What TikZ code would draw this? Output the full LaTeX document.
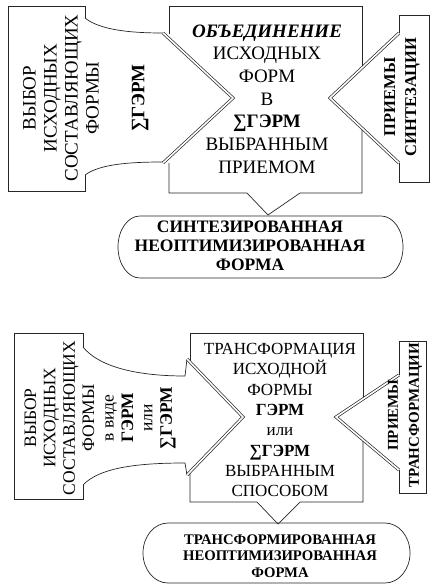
\documentclass[tikz,border=0pt]{standalone}
\usepackage{fontspec}
\setmainfont{Liberation Serif}
\begin{document}
\begin{tikzpicture}[x=1pt,y=-1pt,
  ln/.style={line width=0.7pt, draw=black!85},
  dbl/.style={line width=0.7pt, draw=black!85, double=white, double distance=1.6pt},
  txt/.style={inner sep=0pt, align=center, text=black}]
\useasboundingbox (0,0) rectangle (436,586);
% ---------------- top section ----------------
% left arrow (selection)
\draw[ln] (85,18) -- (85,6) -- (8,6) -- (8,191) -- (85,191) -- (85,175);
\draw[ln] (85,18) .. controls (100,30) and (130,33) .. (163,33);
\draw[ln] (85,175) .. controls (100,164) and (130,162) .. (163,162);
% centre box
\draw[ln] (169,34) -- (169,6) -- (362,6) -- (362,68);
\draw[ln] (362,128) -- (362,193) -- (300,193) -- (268,215) -- (247,193) -- (169,193) -- (169,163);
% right box (techniques)
\draw[ln] (399,33) -- (399,15) -- (429,15) -- (429,182) -- (399,182) -- (399,163);
\draw[dbl] (163,33) -- (233,98) -- (163,163);
\draw[dbl] (399,33) -- (330,98) -- (399,163);
% result pill
\draw[ln] (140,216) -- (381,216) arc[start angle=-90, end angle=90, x radius=22, y radius=31]
  -- (140,278) arc[start angle=90, end angle=270, x radius=22, y radius=31] -- cycle;
% texts
\node[txt, rotate=90, font=\fontsize{19}{21}\selectfont] (tl) at (61,98)
  {ВЫБОР\\ИСХОДНЫХ\\СОСТАВЛЯЮЩИХ\\ФОРМЫ};
\node[txt, rotate=90, font=\fontsize{19}{21}\selectfont\bfseries] (tls) at (140,98) {∑ГЭРМ};
\node[txt, font=\fontsize{19}{22.7}\selectfont] (tc) at (267,99)
  {\textbf{\textit{ОБЪЕДИНЕНИЕ}}\\ИСХОДНЫХ\\ФОРМ\\В\\\textbf{∑ГЭРМ}\\ВЫБРАННЫМ\\ПРИЕМОМ};
\node[txt, rotate=90, font=\fontsize{16.5}{21}\selectfont\bfseries] (tr) at (402,97)
  {ПРИЕМЫ\\СИНТЕЗАЦИИ};
\node[txt, font=\fontsize{17.5}{19}\selectfont\bfseries] (tp) at (250,246)
  {СИНТЕЗИРОВАННАЯ\\НЕОПТИМИЗИРОВАННАЯ\\ФОРМА};
% ---------------- bottom section ----------------
\draw[ln] (83,347) -- (83,333) -- (14,333) -- (14,499) -- (83,499) -- (83,485);
\draw[ln] (83,347) .. controls (100,368) and (140,376) .. (185,376) -- (187,359);
\draw[ln] (83,485) .. controls (100,467) and (140,463) .. (185,463) -- (187,475);
\draw[ln] (190,362) -- (190,333) -- (363,333) -- (363,399);
\draw[ln] (363,440) -- (363,502) -- (300,502) -- (278,524) -- (257,502) -- (190,502) -- (190,472);
\draw[ln] (399,375) -- (399,341) -- (426,341) -- (426,493) -- (399,493) -- (399,470);
\draw[dbl] (187,359) -- (243,417) -- (187,475);
\draw[dbl] (399,375) -- (336,417) -- (399,470);
\draw[ln] (168,523) -- (385,523) arc[start angle=-90, end angle=90, x radius=25, y radius=30]
  -- (168,583) arc[start angle=90, end angle=270, x radius=25, y radius=30] -- cycle;
\node[txt, rotate=90, font=\fontsize{17.5}{19.4}\selectfont] (bl) at (100,418)
  {ВЫБОР\\ИСХОДНЫХ\\СОСТАВЛЯЮЩИХ\\ФОРМЫ\\в виде\\\textbf{ГЭРМ}\\или\\\textbf{∑ГЭРМ}};
\node[txt, font=\fontsize{17}{20.3}\selectfont] (bc) at (280,420)
  {ТРАНСФОРМАЦИЯ\\ИСХОДНОЙ\\ФОРМЫ\\\textbf{ГЭРМ}\\или\\\textbf{∑ГЭРМ}\\ВЫБРАННЫМ\\СПОСОБОМ};
\node[txt, rotate=90, font=\fontsize{15}{21}\selectfont\bfseries] (br) at (405,415)
  {ПРИЕМЫ\\ТРАНСФОРМАЦИИ};
\node[txt, font=\fontsize{14.7}{16.5}\selectfont\bfseries] (bp) at (280,556)
  {ТРАНСФОРМИРОВАННАЯ\\НЕОПТИМИЗИРОВАННАЯ\\ФОРМА};
\end{tikzpicture}
\end{document}
